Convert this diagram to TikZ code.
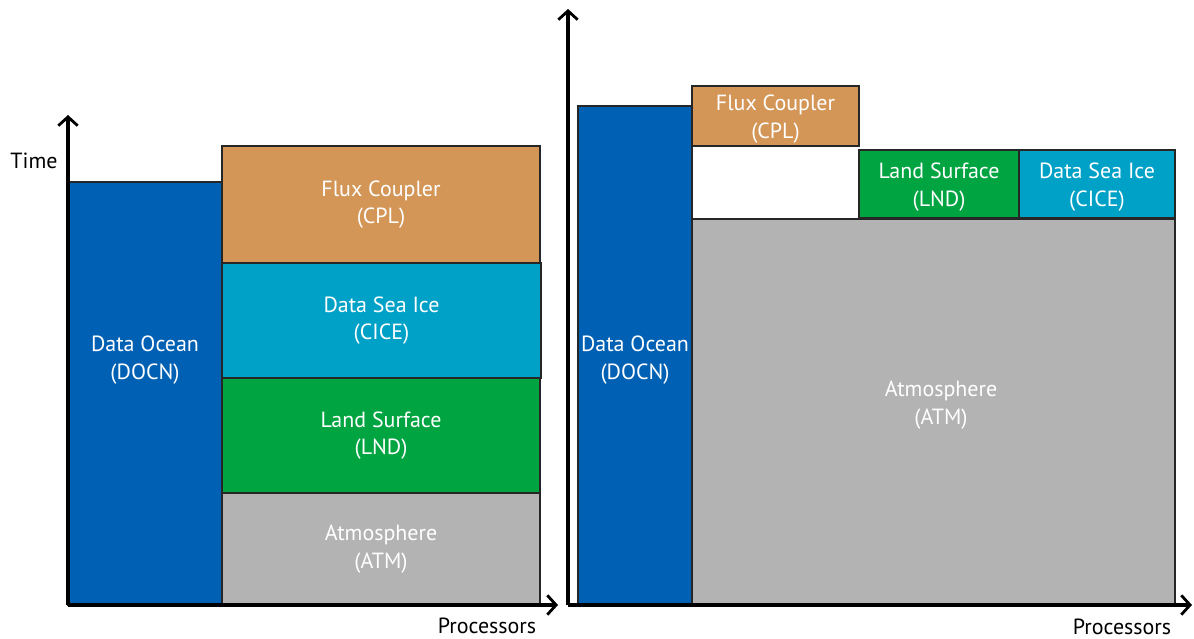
\documentclass[tikz,border=0pt]{standalone}
\usepackage{fontspec}
\setmainfont{PT Sans}
\usepackage{tikz}
\usetikzlibrary{arrows.meta}

\definecolor{oceanblue}{HTML}{0060B4}
\definecolor{cplorange}{HTML}{D39657}
\definecolor{iceblue}{HTML}{00A1C7}
\definecolor{landgreen}{HTML}{00A441}
\definecolor{atmgrey}{HTML}{B3B3B3}

\tikzset{
  axis/.style={line width=1.8pt, -{Straight Barb[length=5pt,width=11pt,line width=1.6pt]}},
  comp/.style={draw=black!85, line width=0.8pt},
  lbl/.style={text=white, align=center, font=\fontsize{12.5}{15.5}\selectfont},
  axlbl/.style={font=\fontsize{12.5}{15}\selectfont}
}

\begin{document}
\begin{tikzpicture}[x=0.02cm, y=-0.02cm]
            \useasboundingbox (0,0) rectangle (1194,639);
            % left: sequential layout
            \coordinate (oL) at (68,605);
            \coordinate (xL) at (558,605);
            \coordinate (yL) at (68,115);
            \draw[comp, fill=oceanblue] (68,182) rectangle (222,605);
            \node[lbl] (docnL) at (145,360) {Data Ocean\\(DOCN)};
            \draw[comp, fill=cplorange] (222,146) rectangle (540,263) node[midway, lbl] (cplL) {Flux Coupler\\(CPL)};
            \draw[comp, fill=iceblue] (222,263) rectangle (541,378) node[midway, lbl] (ciceL) {Data Sea Ice\\(CICE)};
            \draw[comp, fill=landgreen] (222,378) rectangle (540,493) node[midway, lbl] (lndL) {Land Surface\\(LND)};
            \draw[comp, fill=atmgrey] (222,493) rectangle (540,605) node[midway, lbl] (atmL) {Atmosphere\\(ATM)};
            \draw[axis] (oL) -- (yL);
            \draw[axis] (oL) -- (xL);
            \node[axlbl] (timeL) at (34,161) {Time};
            \node[axlbl] (procL) at (487,626) {Processors};
            % right: concurrent layout
            \coordinate (oR) at (568,605);
            \coordinate (xR) at (1192,605);
            \coordinate (yR) at (568,9);
            \draw[comp, fill=oceanblue] (578,106) rectangle (692,605);
            \node[lbl] (docnR) at (635,360) {Data Ocean\\(DOCN)};
            \draw[comp, fill=cplorange] (692,86) rectangle (859,146) node[midway, lbl, yshift=-1.7pt] (cplR) {Flux Coupler\\(CPL)};
            \draw[comp, fill=landgreen] (859,150) rectangle (1019,218) node[midway, lbl, yshift=-1.7pt] (lndR) {Land Surface\\(LND)};
            \draw[comp, fill=iceblue] (1019,150) rectangle (1175,218) node[midway, lbl, yshift=-1.7pt] (ciceR) {Data Sea Ice\\(CICE)};
            \draw[comp, fill=atmgrey] (692,219) rectangle (1175,605);
            \node[lbl] (atmR) at (941,405) {Atmosphere\\(ATM)};
            \draw[axis] (oR) -- (yR);
            \draw[axis] (oR) -- (xR);
            \node[axlbl] (procR) at (1122,627) {Processors};
        \end{tikzpicture}
\end{document}
